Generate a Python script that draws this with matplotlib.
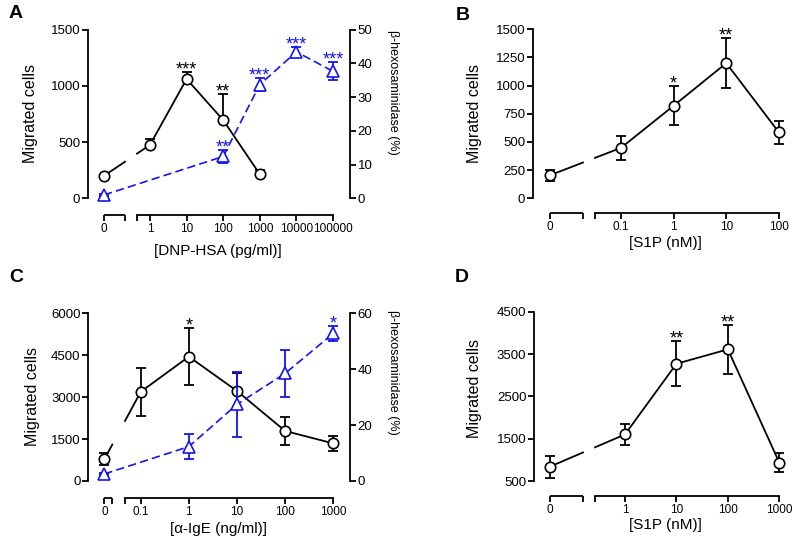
import numpy as np
import matplotlib.pyplot as plt

plt.rcParams['font.family'] = ['Liberation Sans', 'DejaVu Sans']

W, H = 800, 548
BLUE = '#1414f0'

# panel A: DNP-HSA
a_conc = [0, 1, 10, 100, 1000]
a_cells = [200, 475, 1060, 695, 214]
a_cells_err = [0, 50, 60, 235, 38]
a_cells_stars = ['', '', '***', '**', '']
a_hex_conc = [0, 100, 1000, 10000, 100000]
a_hex = [1.0, 12.4, 33.7, 43.4, 37.6]
a_hex_err = [0.4, 2.0, 1.8, 1.5, 2.7]
a_hex_stars = ['', '**', '***', '***', '***']
a_ticks = [0, 1, 10, 100, 1000, 10000, 100000]
a_ticklabels = ['0', '1', '10', '100', '1000', '10000', '100000']

# panel B: S1P
b_conc = [0, 0.1, 1, 10, 100]
b_cells = [205, 448, 822, 1200, 585]
b_cells_err = [48, 105, 172, 225, 102]
b_cells_stars = ['', '', '*', '**', '']
b_ticks = [0, 0.1, 1, 10, 100]
b_ticklabels = ['0', '0.1', '1', '10', '100']

# panel C: anti-IgE
c_conc = [0, 0.1, 1, 10, 100, 1000]
c_cells = [775, 3190, 4450, 3220, 1790, 1345]
c_cells_err = [220, 870, 1030, 650, 510, 270]
c_cells_stars = ['', '', '*', '', '', '']
c_hex_conc = [0, 1, 10, 100, 1000]
c_hex = [2.5, 12.3, 27.4, 38.5, 52.8]
c_hex_err = [0.5, 4.5, 11.5, 8.3, 2.8]
c_hex_stars = ['', '', '', '', '*']
c_ticks = [0, 0.1, 1, 10, 100, 1000]
c_ticklabels = ['0', '0.1', '1', '10', '100', '1000']

# panel D: S1P
d_conc = [0, 1, 10, 100, 1000]
d_cells = [840, 1600, 3270, 3610, 935]
d_cells_err = [260, 245, 530, 570, 225]
d_cells_stars = ['', '', '**', '**', '']
d_ticks = [0, 1, 10, 100, 1000]
d_ticklabels = ['0', '1', '10', '100', '1000']


def fx(px):
    return px / W


def fy(py):
    return 1 - py / H


def xpos(conc, zero):
    return np.array([np.log10(c) if c > 0 else zero for c in conc])


def style(ax, side='left'):
    for s in ['top', 'right', 'left', 'bottom']:
        ax.spines[s].set_visible(False)
    ax.spines[side].set_visible(True)
    ax.spines[side].set_linewidth(1.3)
    ax.tick_params(axis='y', length=4, width=1.3, labelsize=9.5, pad=1.5)


def make_panel(rect, xlim, zero, gap, ylim, ybounds, yticks, ticks, ticklabels):
    x0, y0, x1, y1 = rect
    ax = fig.add_axes([fx(x0), fy(y1), (x1 - x0) / W, (y1 - y0) / H])
    ax.patch.set_visible(False)
    style(ax)
    ax.spines['bottom'].set_visible(True)
    ax.spines['bottom'].set_linewidth(1.3)
    ax.set_xlim(*xlim)
    ax.set_ylim(*ylim)
    ax.spines['left'].set_bounds(*ybounds)
    ax.set_yticks(yticks)
    tp = list(xpos(ticks, zero))
    ax.spines['bottom'].set_bounds(gap[1], tp[-1])
    ax.set_xticks(tp + [gap[0], gap[1]], ticklabels + ['', ''])
    ax.tick_params(axis='x', length=4, width=1.3, labelsize=8.5, pad=1.5)
    ax.plot([zero, gap[0]], [ylim[0], ylim[0]], color='k', lw=1.3,
            clip_on=False, solid_capstyle='butt')
    return ax


def draw_cells(ax, conc, vals, err, stars, zero, gap, upper_only=False):
    x = xpos(conc, zero)
    v = np.array(vals, dtype=float)
    # broken connection across the axis gap
    t0 = (gap[0] - x[0]) / (x[1] - x[0])
    t1 = (gap[1] - x[0]) / (x[1] - x[0])
    ax.plot([x[0], gap[0]], [v[0], v[0] + t0 * (v[1] - v[0])], color='k', lw=1.3)
    ax.plot(np.r_[gap[1], x[1:]], np.r_[v[0] + t1 * (v[1] - v[0]), v[1:]],
            color='k', lw=1.3)
    yerr = [np.zeros(len(err)), err] if upper_only else err
    ax.errorbar(x, v, yerr=yerr, fmt='none', ecolor='k', elinewidth=1.3,
                capsize=3.5, capthick=1.3, zorder=3)
    ax.plot(x, v, 'o', ms=7.5, mfc='white', mec='k', mew=1.2, zorder=4)
    for xi, vi, ei, s in zip(x, v, err, stars):
        if s:
            ax.annotate(s, (xi, vi + ei), xytext=(0, 1.5), textcoords='offset points',
                        ha='center', va='center', fontsize=13, color='k')


def draw_hex(ax, conc, vals, err, stars, zero):
    x = xpos(conc, zero)
    ax.plot(x, vals, '--', color=BLUE, lw=1.2, dashes=(5, 2.5), zorder=5)
    ax.errorbar(x, vals, yerr=err, fmt='none', ecolor=BLUE, elinewidth=1.3,
                capsize=3.5, capthick=1.3, zorder=5)
    ax.plot(x, vals, '^', ms=8, mfc='white', mec=BLUE, mew=1.2, zorder=6)
    for xi, vi, ei, s in zip(x, vals, err, stars):
        if s:
            ax.annotate(s, (xi, vi + ei), xytext=(0, 1.5), textcoords='offset points',
                        ha='center', va='center', fontsize=13, color=BLUE)


def right_axis(ax, ylim, yticks):
    ax2 = ax.twinx()
    style(ax2, 'right')
    ax2.set_ylim(*ylim)
    ax2.spines['right'].set_bounds(0, yticks[-1])
    ax2.set_yticks(yticks)
    return ax2


fig = plt.figure(figsize=(8, 5.48), dpi=100)

# A
zA, gA = -1.257, (-0.683, -0.355)
axA = make_panel((88, 29.5, 350, 215), (-1.694, 5.464), zA, gA, (-148, 1500),
                 (0, 1500), [0, 500, 1000, 1500], a_ticks, a_ticklabels)
draw_cells(axA, a_conc, a_cells, a_cells_err, a_cells_stars, zA, gA, upper_only=True)
axA2 = right_axis(axA, (-4.93, 50), [0, 10, 20, 30, 40, 50])
draw_hex(axA2, a_hex_conc, a_hex, a_hex_err, a_hex_stars, zA)

# B
zB, gB = -2.349, (-1.722, -1.494)
axB = make_panel((533, 29.3, 790, 213), (-2.671, 2.21), zB, gB, (-130, 1500),
                 (0, 1500), [0, 250, 500, 750, 1000, 1250, 1500], b_ticks, b_ticklabels)
draw_cells(axB, b_conc, b_cells, b_cells_err, b_cells_stars, zB, gB)

# C
zC, gC = -1.755, (-1.589, -1.326)
axC = make_panel((88.3, 313.3, 350, 498.3), (-2.088, 3.347), zC, gC, (-619, 6000),
                 (0, 6000), [0, 1500, 3000, 4500, 6000], c_ticks, c_ticklabels)
draw_cells(axC, c_conc, c_cells, c_cells_err, c_cells_stars, zC, gC)
axC2 = right_axis(axC, (-6.19, 60), [0, 20, 40, 60])
draw_hex(axC2, c_hex_conc, c_hex, c_hex_err, c_hex_stars, zC)

# D
zD, gD = -1.458, (-0.817, -0.583)
axD = make_panel((534, 311.7, 790, 496), (-1.769, 3.208), zD, gD, (146, 4500),
                 (500, 4500), [500, 1500, 2500, 3500, 4500], d_ticks, d_ticklabels)
draw_cells(axD, d_conc, d_cells, d_cells_err, d_cells_stars, zD, gD)

# axis titles
for x, y in [(30, 113), (32, 397), (475, 113), (475, 389)]:
    fig.text(fx(x), fy(y), 'Migrated cells', rotation=90, ha='center', va='center', fontsize=11.5)
for x, y in [(393, 92), (393, 372)]:
    fig.text(fx(x), fy(y), '\u03b2-hexosaminidase (%)', rotation=270, ha='center', va='center',
             fontsize=9)
fig.text(fx(218), fy(251), '[DNP-HSA (pg/ml)]', ha='center', va='center', fontsize=11)
fig.text(fx(665), fy(243), '[S1P (nM)]', ha='center', va='center', fontsize=11)
fig.text(fx(218), fy(529), '[\u03b1-IgE (ng/ml)]', ha='center', va='center', fontsize=11)
fig.text(fx(665), fy(525), '[S1P (nM)]', ha='center', va='center', fontsize=11)

# panel letters
for s, x, y in [('A', 16, 14), ('B', 463, 16), ('C', 16, 278), ('D', 462, 278)]:
    fig.text(fx(x), fy(y), s, ha='center', va='center', fontsize=14, fontweight='bold')

fig.savefig('out.png', dpi=100)
